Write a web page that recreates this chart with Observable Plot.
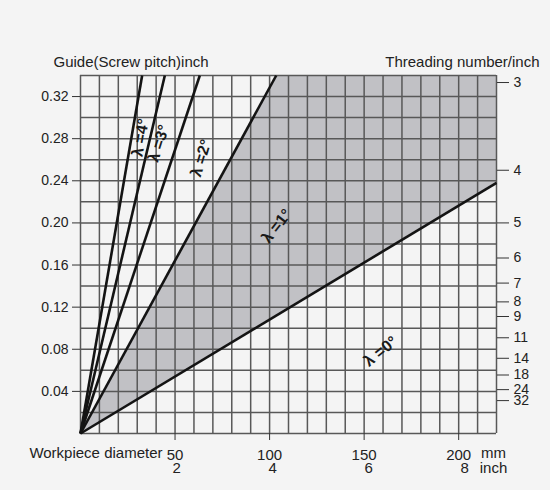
<!DOCTYPE html>
<html>
<head>
<meta charset="utf-8">
<script src="https://cdn.jsdelivr.net/npm/d3@7"></script>
<script src="https://cdn.jsdelivr.net/npm/@observablehq/plot@0.6"></script>
<style>
  html, body { margin: 0; padding: 0; background: #f4f4f4; }
  #chart svg { display: block; font-family: "Liberation Sans", Arial, sans-serif; }
</style>
</head>
<body>
<div id="chart"></div>
<script>
// ---- data ----
const pitchTicks = [0.04, 0.08, 0.12, 0.16, 0.20, 0.24, 0.28, 0.32];      // inch
const threadsPerInch = [3, 4, 5, 6, 7, 8, 9, 11, 14, 18, 24, 32];
const diameterTicksMm = [50, 100, 150, 200];
const diameterTicksInch = [2, 4, 6, 8];
const diameterDomain = [0, 220];   // mm
const pitchDomain = [0, 0.34];     // inch
const gridDiameters = d3.range(0, 221, 10);
const gridPitches = d3.range(0, 0.3401, 0.02);

const helixAngles = [0, 1, 2, 3, 4];                    // degrees
const endDiameterMm = [220, 103.5, 63.1, 44.6, 32.6];   // where each line leaves the chart
const endPitchInch = [0.238, 0.34, 0.34, 0.34, 0.34];
const labelDiameterMm = [158.7, 103.7, 63.8, 41.4, 31.7];
const labelPitchInch = [0.078, 0.197, 0.2615, 0.2755, 0.281];
const labelRotate = [-39, -52, -73, -72, -80];

// ---- derived tables ----
const lines = helixAngles.map((a, i) => ({angle: a, x2: endDiameterMm[i], y2: endPitchInch[i]}));
const shaded = [
  {x: 0, y: 0},
  {x: endDiameterMm[1], y: endPitchInch[1]},
  {x: diameterDomain[1], y: pitchDomain[1]},
  {x: endDiameterMm[0], y: endPitchInch[0]}
];
const labels = helixAngles.map((a, i) => ({
  text: `λ =${a}°`, x: labelDiameterMm[i], y: labelPitchInch[i], rot: labelRotate[i]
}));

const ink = "#222";
const chart = Plot.plot({
  width: 550,
  height: 490,
  marginTop: 75,
  marginRight: 54,
  marginBottom: 57,
  marginLeft: 80,
  style: {background: "transparent", fontFamily: "Liberation Sans, Arial, sans-serif", color: ink},
  x: {domain: diameterDomain},
  y: {domain: pitchDomain},
  marks: [
    Plot.line(shaded, {x: "x", y: "y", fill: "#c1c1c5", stroke: "none"}),
    Plot.ruleX(gridDiameters, {stroke: "#585858", strokeWidth: 1.5}),
    Plot.ruleY(gridPitches, {stroke: "#585858", strokeWidth: 1.5}),
    Plot.link(lines, {x1: () => 0, y1: () => 0, x2: "x2", y2: "y2", stroke: "#141414", strokeWidth: 2.6}),
    Plot.text(labels, {x: "x", y: "y", text: "text", rotate: "rot", fontSize: 16, fontWeight: "bold", fill: "#1a1a1a"}),
    Plot.axisY(pitchTicks, {anchor: "left", tickSize: 8, tickPadding: 4, tickFormat: d3.format(".2f"), fontSize: 14, label: null, stroke: "#333", fill: ink}),
    Plot.axisY(threadsPerInch.map(n => 1 / n), {anchor: "right", tickSize: 12, tickPadding: 5, tickFormat: d => String(Math.round(1 / d)), fontSize: 14, label: null, stroke: "#333", fill: ink}),
    Plot.axisX(diameterTicksMm, {anchor: "bottom", tickSize: 7, tickPadding: 9, fontSize: 15, label: null, stroke: "#333", fill: ink}),
    Plot.text(diameterTicksInch, {x: d => d * 25.4, frameAnchor: "bottom", dy: 39, text: d => String(d), fontSize: 15, fill: ink}),
    Plot.text(["Workpiece diameter"], {frameAnchor: "bottom-left", dx: 82, dy: 24, textAnchor: "end", text: d => d, fontSize: 15, fill: ink}),
    Plot.text(["mm"], {frameAnchor: "bottom-right", dx: -3, dy: 24, textAnchor: "middle", text: d => d, fontSize: 15, fill: ink}),
    Plot.text(["inch"], {frameAnchor: "bottom-right", dx: -3, dy: 39, textAnchor: "middle", text: d => d, fontSize: 15, fill: ink}),
    Plot.text(["Guide(Screw pitch)inch"], {frameAnchor: "top-left", dx: -27, dy: -19, textAnchor: "start", text: d => d, fontSize: 15, fill: ink}),
    Plot.text(["Threading number/inch"], {frameAnchor: "top-right", dx: 43, dy: -19, textAnchor: "end", text: d => d, fontSize: 15, fill: ink})
  ]
});
document.getElementById("chart").appendChild(chart);
</script>
</body>
</html>
